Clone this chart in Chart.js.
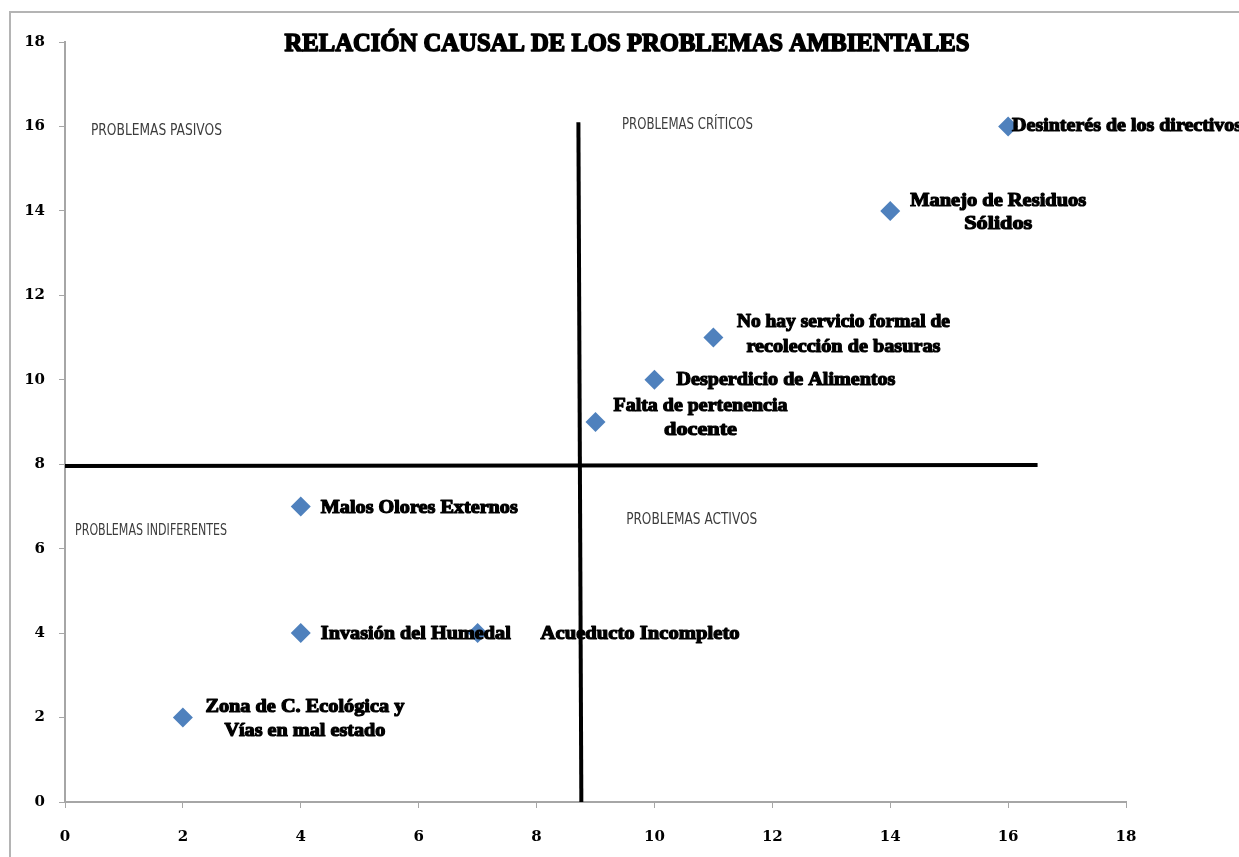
<!DOCTYPE html>
<html lang="es">
<head>
    <meta charset="UTF-8">
    <title>Relación causal de los problemas ambientales</title>
    <script src="https://cdn.jsdelivr.net/npm/chart.js"></script>
    <style>
        html, body { margin: 0; padding: 0; background: #fff; overflow: hidden; }
        #wrap { position: relative; width: 1239px; height: 857px; }
        #frame { position: absolute; left: 9px; top: 11px; width: 1300px; height: 900px;
                 border: 2px solid #b4b4b4; pointer-events: none; }
    </style>
</head>
<body>
    <div id="wrap">
        <canvas id="chart" width="1239" height="857"></canvas>
        <div id="frame"></div>
    </div>

    <script>
        // Datos
        var titulo = 'RELACIÓN CAUSAL DE LOS PROBLEMAS AMBIENTALES';
        var influencia = [16, 14, 11, 10, 9, 4, 4, 7, 2];   // eje X
        var dependencia = [16, 14, 11, 10, 9, 7, 4, 4, 2];  // eje Y
        var problemas = [
            ['Desinterés de los directivos'],
            ['Manejo de Residuos', 'Sólidos'],
            ['No hay servicio formal de', 'recolección de basuras'],
            ['Desperdicio de Alimentos'],
            ['Falta de pertenencia', 'docente'],
            ['Malos Olores Externos'],
            ['Invasión del Humedal'],
            ['Acueducto Incompleto'],
            ['Zona de C. Ecológica y', 'Vías en mal estado']
        ];
        var cuadrantes = ['PROBLEMAS PASIVOS', 'PROBLEMAS CRÍTICOS', 'PROBLEMAS INDIFERENTES', 'PROBLEMAS ACTIVOS'];
        var ejeVerticalX = [8.71, 8.76];
        var ejeVerticalY = [16.1, 0];
        var ejeHorizontalX = [0, 16.5];
        var ejeHorizontalY = [7.96, 7.98];
        var ticks = [0, 2, 4, 6, 8, 10, 12, 14, 16, 18];

        // estilo de las etiquetas (desplazamientos en px respecto al punto)
        var estiloEtiquetas = [
            { dx: 4, dy: [0], align: 'left', w: [230] },
            { dx: 108, dy: [-10, 13], align: 'center', w: [176, 68] },
            { dx: 130, dy: [-15, 10], align: 'center', w: [213, 194] },
            { dx: 22, dy: [0], align: 'left', w: [219] },
            { dx: 105, dy: [-16, 8], align: 'center', w: [174, 73] },
            { dx: 20, dy: [2], align: 'left', w: [197] },
            { dx: 20, dy: [1], align: 'left', w: [190] },
            { dx: 63, dy: [1], align: 'left', w: [199] },
            { dx: 122, dy: [-10, 14], align: 'center', w: [199, 161] }
        ];
        var estiloCuadrantes = [
            { x: 0.44, y: 15.9, w: 131 },
            { x: 9.45, y: 16.03, w: 131 },
            { x: 0.17, y: 6.42, w: 152 },
            { x: 9.52, y: 6.68, w: 131 }
        ];

        function textoAjustado(ctx, text, x, y, w, align, grosor) {
            var m = ctx.measureText(text).width;
            ctx.save();
            ctx.translate(x, y);
            ctx.scale(w / m, 1);
            ctx.textAlign = align;
            if (grosor) {
                ctx.lineWidth = grosor;
                ctx.lineJoin = 'round';
                ctx.strokeText(text, 0, 0);
            }
            ctx.fillText(text, 0, 0);
            ctx.restore();
        }

        var etiquetasPlugin = {
            id: 'etiquetas',
            afterDatasetsDraw: function (chart) {
                var ctx = chart.ctx;
                var xs = chart.scales.x, ys = chart.scales.y;
                ctx.save();
                ctx.textBaseline = 'middle';

                // etiquetas de cada punto
                ctx.fillStyle = '#000';
                ctx.strokeStyle = '#000';
                ctx.font = 'bold 19px "Liberation Serif"';
                problemas.forEach(function (lineas, i) {
                    var st = estiloEtiquetas[i];
                    var px = xs.getPixelForValue(influencia[i]);
                    var py = ys.getPixelForValue(dependencia[i]);
                    lineas.forEach(function (t, j) {
                        textoAjustado(ctx, t, px + st.dx, py + st.dy[j], st.w[j], st.align, 1.2);
                    });
                });

                // nombres de los cuadrantes
                ctx.fillStyle = '#3c3c3c';
                ctx.font = '16px "Liberation Sans Narrow", "DejaVu Sans Condensed", sans-serif';
                cuadrantes.forEach(function (t, i) {
                    var st = estiloCuadrantes[i];
                    textoAjustado(ctx, t, xs.getPixelForValue(st.x), ys.getPixelForValue(st.y), st.w, 'left', 0);
                });

                // título
                ctx.fillStyle = '#000';
                ctx.strokeStyle = '#000';
                ctx.font = 'bold 26px "Liberation Serif"';
                textoAjustado(ctx, titulo, 627, 44, 685, 'center', 1.6);
                ctx.restore();
            }
        };

        var fuenteEjes = { family: '"DejaVu Serif"', size: 15, weight: 'bold' };

        var ctx = document.getElementById('chart').getContext('2d');
        var chart = new Chart(ctx, {
            type: 'scatter',
            data: {
                datasets: [{
                    label: 'Problemas',
                    data: influencia.map(function (v, i) { return { x: v, y: dependencia[i] }; }),
                    pointStyle: 'rectRot',
                    pointRadius: 10,
                    pointHoverRadius: 10,
                    backgroundColor: '#4f81bd',
                    borderColor: '#4f81bd',
                    borderWidth: 0,
                    order: 0
                }, {
                    label: 'Eje vertical',
                    type: 'line',
                    data: ejeVerticalX.map(function (v, i) { return { x: v, y: ejeVerticalY[i] }; }),
                    borderColor: '#000',
                    borderWidth: 4,
                    pointRadius: 0,
                    fill: false,
                    order: 1
                }, {
                    label: 'Eje horizontal',
                    type: 'line',
                    data: ejeHorizontalX.map(function (v, i) { return { x: v, y: ejeHorizontalY[i] }; }),
                    borderColor: '#000',
                    borderWidth: 4,
                    pointRadius: 0,
                    fill: false,
                    order: 1
                }]
            },
            options: {
                responsive: false,
                animation: false,
                layout: { padding: { top: 42, right: 113, left: 0, bottom: 0 } },
                scales: {
                    x: {
                        type: 'linear',
                        min: ticks[0],
                        max: ticks[ticks.length - 1],
                        afterBuildTicks: function (s) { s.ticks = ticks.map(function (v) { return { value: v }; }); },
                        afterFit: function (s) { s.height = 55; },
                        grid: { drawOnChartArea: false, drawTicks: true, tickLength: 6, color: '#a6a6a6' },
                        border: { color: '#a6a6a6', width: 2 },
                        ticks: { color: '#000', font: fuenteEjes, padding: 20, maxRotation: 0 }
                    },
                    y: {
                        type: 'linear',
                        min: ticks[0],
                        max: ticks[ticks.length - 1],
                        afterBuildTicks: function (s) { s.ticks = ticks.map(function (v) { return { value: v }; }); },
                        afterFit: function (s) { s.width = 65; },
                        grid: { drawOnChartArea: false, drawTicks: true, tickLength: 6, color: '#a6a6a6' },
                        border: { color: '#a6a6a6', width: 2 },
                        ticks: { color: '#000', font: fuenteEjes, padding: 14 }
                    }
                },
                plugins: {
                    legend: { display: false },
                    tooltip: { enabled: false }
                }
            },
            plugins: [etiquetasPlugin]
        });
    </script>
</body>
</html>
